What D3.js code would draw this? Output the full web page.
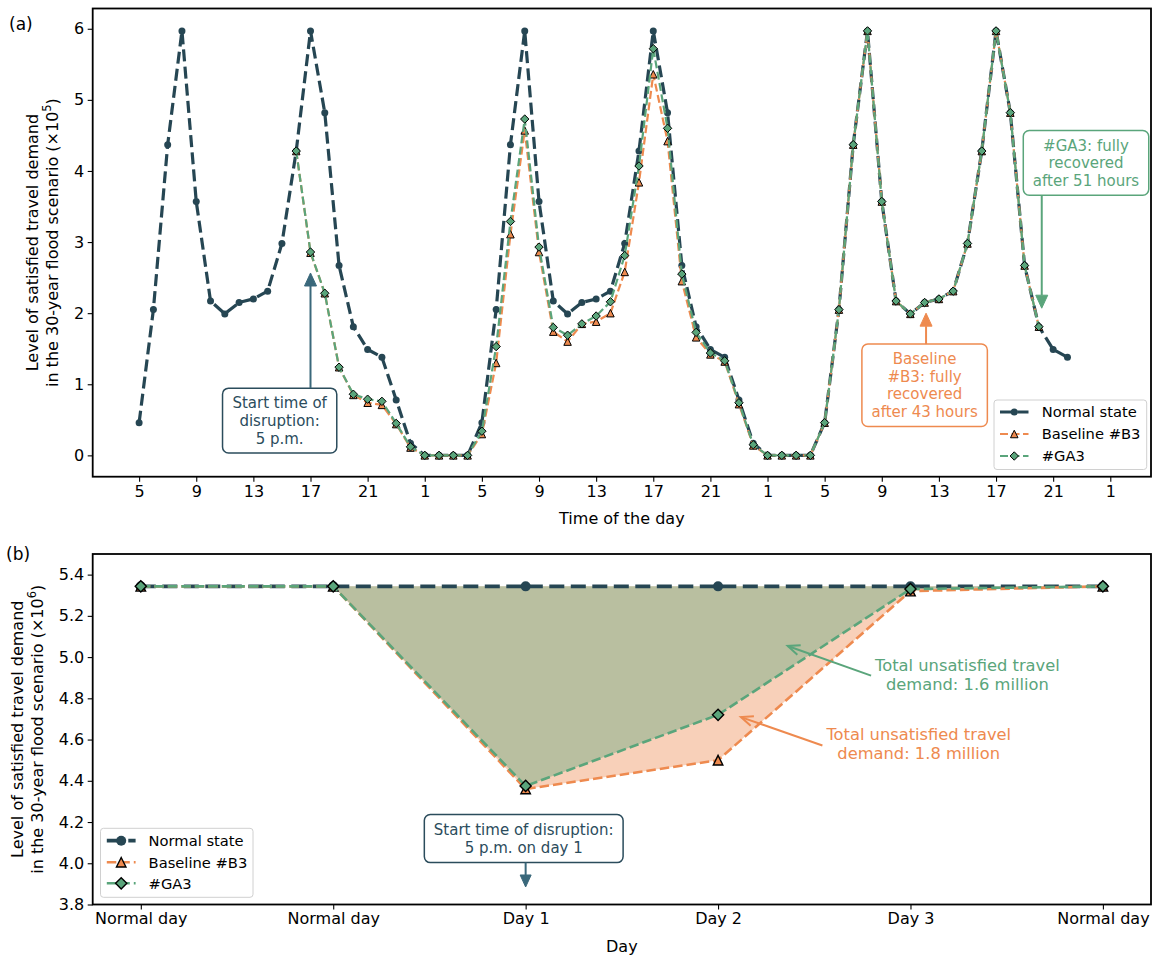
<!DOCTYPE html>
<html><head><meta charset="utf-8">
<script src="https://cdn.jsdelivr.net/npm/d3@7"></script>
<style>
body{margin:0;background:#fff}
svg{display:block}
text{font-family:"DejaVu Sans",sans-serif}
</style>
</head><body>
<svg id="c" width="1155" height="960"></svg>
<script>
// ---------------- DATA ----------------
const hourTickLabels = ["5","9","13","17","21","1","5","9","13","17","21","1","5","9","13","17","21","1"];
const yTicksA = [0,1,2,3,4,5,6];
// Normal state, hourly from 5 a.m. (day before disruption) to 22:00 on day 3
const normalHourly = [
  0.46,2.05,4.37,5.97,3.57,2.17,1.99,2.15,2.20,2.31,2.98,4.28,5.97,4.82,2.67,1.81,1.49,1.38,0.78,0.17,0,0,0,0,
  0.46,2.05,4.37,5.97,3.57,2.17,1.99,2.15,2.20,2.31,2.98,4.28,5.97,4.82,2.67,1.81,1.49,1.38,0.78,0.17,0,0,0,0,
  0.46,2.05,4.37,5.97,3.57,2.17,1.99,2.15,2.20,2.31,2.98,4.28,5.97,4.82,2.67,1.81,1.49,1.38
];
const scenarioStartHourIndex = 11; // 16:00, last point before disruption
const b3Hourly = [
  4.28,2.85,2.28,1.24,0.85,0.74,0.71,0.44,0.11,0,0,0,0,
  0.30,1.30,3.11,4.57,2.86,1.74,1.60,1.85,1.88,2.00,2.58,3.84,5.36,4.42,2.45,1.66,1.42,1.32,0.72,0.14,0,0,0,0,
  0.46,2.05,4.37,5.97,3.57,2.17,1.99,2.15,2.20,2.31,2.98,4.28,5.97,4.82,2.67,1.81
];
const ga3Hourly = [
  4.28,2.86,2.28,1.24,0.86,0.79,0.76,0.45,0.12,0,0,0,0,
  0.34,1.53,3.29,4.73,2.93,1.80,1.69,1.85,1.96,2.16,2.81,4.07,5.72,4.60,2.55,1.73,1.44,1.33,0.74,0.15,0,0,0,0,
  0.46,2.05,4.37,5.97,3.57,2.17,1.99,2.15,2.20,2.31,2.98,4.28,5.97,4.82,2.67,1.81
];

const dayLabels = ["Normal day","Normal day","Day 1","Day 2","Day 3","Normal day"];
const yTicksB = [3.8,4.0,4.2,4.4,4.6,4.8,5.0,5.2,5.4];
const normalDaily = [5.343,5.343,5.343,5.343,5.343,5.343];
const b3Daily     = [5.343,5.343,4.36,4.50,5.32,5.343];
const ga3Daily    = [5.343,5.343,4.375,4.72,5.33,5.343];

const seriesNames = ["Normal state","Baseline #B3","#GA3"];

// ---------------- STYLE ----------------
const C_NORMAL = "#264653", C_B3 = "#ee8a4f", C_GA3 = "#5aa57b";
const C_NOTE = "#2b4c5c", C_NOTE_ARROW = "#3a687b";
const svg = d3.select("#c");

function trianglePath(cx, cy, s){ // matplotlib '^'
  return `M${cx},${cy-s/2}L${cx-s/2},${cy+s/2}L${cx+s/2},${cy+s/2}Z`;
}
function diamondPath(cx, cy, r){
  return `M${cx},${cy-r}L${cx+r},${cy}L${cx},${cy+r}L${cx-r},${cy}Z`;
}
function drawMarker(g, type, cx, cy, color, sz){
  if(type==="circle") g.append("circle").attr("cx",cx).attr("cy",cy).attr("r",sz.circle).attr("fill",color);
  else if(type==="triangle") g.append("path").attr("d",trianglePath(cx,cy,sz.tri)).attr("fill",color).attr("stroke","#000").attr("stroke-width",sz.edge);
  else g.append("path").attr("d",diamondPath(cx,cy,sz.dia)).attr("fill",color).attr("stroke","#000").attr("stroke-width",sz.edge);
}

function styleAxis(g, fs){
  g.select(".domain").remove();
  g.selectAll(".tick line").attr("stroke","#000").attr("stroke-width",1.1);
  g.selectAll(".tick text").attr("fill","#000").attr("font-size",fs).attr("font-family","DejaVu Sans");
}

function arrowHeadFilled(g, x1,y1,x2,y2,color,len,half){
  const a = Math.atan2(y2-y1,x2-x1);
  const bx = x2 - len*Math.cos(a), by = y2 - len*Math.sin(a);
  const px = -Math.sin(a)*half, py = Math.cos(a)*half;
  g.append("line").attr("x1",x1).attr("y1",y1).attr("x2",bx).attr("y2",by).attr("stroke",color).attr("stroke-width",2);
  g.append("path").attr("d",`M${x2},${y2}L${bx+px},${by+py}L${bx-px},${by-py}Z`).attr("fill",color).attr("stroke",color).attr("stroke-width",1);
}
function arrowOpen(g, x1,y1,x2,y2,color,len,half){
  const a = Math.atan2(y2-y1,x2-x1);
  const bx = x2 - len*Math.cos(a), by = y2 - len*Math.sin(a);
  const px = -Math.sin(a)*half, py = Math.cos(a)*half;
  g.append("line").attr("x1",x1).attr("y1",y1).attr("x2",x2).attr("y2",y2).attr("stroke",color).attr("stroke-width",2);
  g.append("path").attr("d",`M${bx+px},${by+py}L${x2},${y2}L${bx-px},${by-py}`).attr("fill","none").attr("stroke",color).attr("stroke-width",2);
}

// boxed multi-line text centred at (cx,cy); returns box
function boxedText(g, lines, cx, cy, color, fs, lh, padX, padY){
  const n = lines.length;
  const t = g.append("text").attr("text-anchor","middle").attr("font-size",fs).attr("fill",color);
  lines.forEach((s,k)=>{
    t.append("tspan").attr("x",cx).attr("y", cy + (k-(n-1)/2)*lh + 0.36*fs).text(s);
  });
  const w = t.node().getBBox().width;
  const bw = w + 2*padX, bh = n*lh + 2*padY;
  const box = {x0:cx-bw/2, y0:cy-bh/2, x1:cx+bw/2, y1:cy+bh/2};
  g.insert("rect", "text").attr("x",box.x0).attr("y",box.y0).attr("width",bw).attr("height",bh)
    .attr("rx",6).attr("fill","#fff").attr("stroke",color).attr("stroke-width",1.5);
  return box;
}
function plainText(g, lines, cx, cy, color, fs, lh){
  const n = lines.length;
  const t = g.append("text").attr("text-anchor","middle").attr("font-size",fs).attr("fill",color);
  lines.forEach((s,k)=>{
    t.append("tspan").attr("x",cx).attr("y", cy + (k-(n-1)/2)*lh + 0.36*fs).text(s);
  });
  const bb = t.node().getBBox();
  return {x0:bb.x, x1:bb.x+bb.width, y0:bb.y, y1:bb.y+bb.height, cy};
}

// ================= PANEL (a) =================
const xA = d3.scaleLinear().domain([-3.25, 70.85]).range([92.7, 1151]);
const yA = d3.scaleLinear().domain([-0.3, 6.285]).range([476.7, 8.5]);
const gA = svg.append("g");

const axA = gA.append("g").attr("transform",`translate(0,${yA.range()[0]})`)
  .call(d3.axisBottom(xA).tickValues(hourTickLabels.map((_,k)=>k*4)).tickFormat((d,k)=>hourTickLabels[k]).tickSize(5).tickPadding(3.5));
styleAxis(axA,16);
const ayA = gA.append("g").attr("transform",`translate(${xA.range()[0]},0)`)
  .call(d3.axisLeft(yA).tickValues(yTicksA).tickFormat(d3.format("d")).tickSize(5).tickPadding(3.5));
styleAxis(ayA,16);

const lineA = d3.line().x(d=>xA(d.i)).y(d=>yA(d.v));
const normA = normalHourly.map((v,i)=>({i,v}));
const b3A = b3Hourly.map((v,k)=>({i:k+scenarioStartHourIndex,v}));
const ga3A = ga3Hourly.map((v,k)=>({i:k+scenarioStartHourIndex,v}));
const szA = {circle:3.5, tri:7.5, dia:4.2, edge:1};

function drawSeriesA(data, color, w, dash, marker){
  const g = gA.append("g");
  g.append("path").attr("d",lineA(data)).attr("fill","none").attr("stroke",color)
   .attr("stroke-width",w).attr("stroke-dasharray",dash);
  data.forEach(d=>drawMarker(g, marker, xA(d.i), yA(d.v), color, szA));
}
drawSeriesA(normA, C_NORMAL, 3.2, "12,5.2", "circle");
drawSeriesA(b3A, C_B3, 2.2, "8,3.5", "triangle");
drawSeriesA(ga3A, C_GA3, 2.2, "8,3.5", "diamond");

// frame
gA.append("rect").attr("x",92.7).attr("y",8.5).attr("width",1151-92.7).attr("height",476.7-8.5)
  .attr("fill","none").attr("stroke","#000").attr("stroke-width",1.8);

// annotations (a)
const noteA = gA.append("g");
{
  const b = boxedText(noteA, ["Start time of","disruption:","5 p.m."], xA(9.84), yA(0.49), C_NOTE, 15, 17.6, 9.5, 6);
  arrowHeadFilled(noteA, xA(12), b.y0, xA(12), yA(2.565), C_NOTE_ARROW, 13, 6);
}
{
  const b = boxedText(noteA, ["Baseline","#B3: fully","recovered","after 43 hours"], xA(55.0), yA(0.986), C_B3, 15, 17.6, 9.5, 6);
  arrowHeadFilled(noteA, xA(55.1), b.y0, xA(55.1), yA(2.0), C_B3, 13, 6);
}
{
  const b = boxedText(noteA, ["#GA3: fully","recovered","after 51 hours"], xA(66.3), yA(4.114), C_GA3, 15, 17.6, 9.5, 6);
  arrowHeadFilled(noteA, xA(63.2), b.y1, xA(63.2), yA(2.07), C_GA3, 13, 6);
}

// legend
function legend(g, x0, y0, w, h, rowYs, hx0, hx1, tx, styles, sz){
  g.append("rect").attr("x",x0).attr("y",y0).attr("width",w).attr("height",h).attr("rx",3)
    .attr("fill","#fff").attr("fill-opacity",0.85).attr("stroke","#d0d0d0").attr("stroke-width",1);
  styles.forEach((s,k)=>{
    const y = rowYs[k];
    g.append("line").attr("x1",hx0).attr("x2",hx1).attr("y1",y).attr("y2",y).attr("stroke",s.color)
      .attr("stroke-width",s.w).attr("stroke-dasharray",s.dash);
    drawMarker(g, s.marker, (hx0+hx1)/2, y, s.color, sz);
    g.append("text").attr("x",tx).attr("y",y+0.36*14.7).attr("font-size",14.7).attr("fill","#000").text(seriesNames[k]);
  });
}
legend(gA.append("g"), 994, 400, 152.7, 69.5, [412,434,456], 1000, 1028.5, 1041.7,
  [{color:C_NORMAL,w:3.2,dash:"12,5.2",marker:"circle"},
   {color:C_B3,w:2.2,dash:"8,3.5",marker:"triangle"},
   {color:C_GA3,w:2.2,dash:"8,3.5",marker:"diamond"}], szA);

// labels (a)
svg.append("text").attr("x",9).attr("y",30).attr("font-size",17).text("(a)");
svg.append("text").attr("x",(92.7+1151)/2).attr("y",524).attr("text-anchor","middle").attr("font-size",16).text("Time of the day");
function yLabel(cy, bx, sup){
  const t = svg.append("text").attr("transform",`translate(0,${cy}) rotate(-90)`).attr("text-anchor","middle").attr("font-size",16);
  t.append("tspan").attr("x",0).attr("y",bx).text("Level of satisfied travel demand");
  const t2 = svg.append("text").attr("transform",`translate(0,${cy}) rotate(-90)`).attr("text-anchor","middle").attr("font-size",16);
  t2.append("tspan").attr("x",0).attr("y",bx+19.5).text("in the 30-year flood scenario (×10");
  t2.append("tspan").attr("font-size",11.5).attr("dy",-6.5).text(sup);
  t2.append("tspan").attr("dy",6.5).text(")");
}
yLabel((8.5+476.7)/2, 38, "5");

// ================= PANEL (b) =================
const xB = d3.scaleLinear().domain([-0.25, 5.25]).range([92.7, 1151]);
const yB = d3.scaleLinear().domain([3.8, 5.5]).range([904.5, 554]);
const gB = svg.append("g");

const axB = gB.append("g").attr("transform",`translate(0,${yB.range()[0]})`)
  .call(d3.axisBottom(xB).tickValues(dayLabels.map((_,k)=>k)).tickFormat((d,k)=>dayLabels[k]).tickSize(5).tickPadding(3.5));
styleAxis(axB,16);
const ayB = gB.append("g").attr("transform",`translate(${xB.range()[0]},0)`)
  .call(d3.axisLeft(yB).tickValues(yTicksB).tickFormat(d3.format(".1f")).tickSize(5).tickPadding(3.5));
styleAxis(ayB,16);

const areaB3 = d3.area().x((d,k)=>xB(k)).y0((d,k)=>yB(normalDaily[k])).y1(d=>yB(d));
gB.append("path").attr("d",areaB3(b3Daily)).attr("fill",C_B3).attr("fill-opacity",0.4);
gB.append("path").attr("d",areaB3(ga3Daily)).attr("fill",C_GA3).attr("fill-opacity",0.4);

const lineB = d3.line().x((d,k)=>xB(k)).y(d=>yB(d));
const szB = {circle:5, tri:9.5, dia:5.6, edge:1.4};
function drawSeriesB(data, color, w, dash, marker){
  const g = gB.append("g");
  g.append("path").attr("d",lineB(data)).attr("fill","none").attr("stroke",color)
   .attr("stroke-width",w).attr("stroke-dasharray",dash);
  data.forEach((v,k)=>drawMarker(g, marker, xB(k), yB(v), color, szB));
}
drawSeriesB(normalDaily, C_NORMAL, 3.8, "15,6.5", "circle");
drawSeriesB(b3Daily, C_B3, 2.6, "9.5,4", "triangle");
drawSeriesB(ga3Daily, C_GA3, 2.6, "9.5,4", "diamond");

gB.append("rect").attr("x",92.7).attr("y",554).attr("width",1151-92.7).attr("height",904.5-554)
  .attr("fill","none").attr("stroke","#000").attr("stroke-width",1.8);

const noteB = gB.append("g");
{
  const b = boxedText(noteB, ["Start time of disruption:","5 p.m. on day 1"], xB(1.99), yB(4.12), C_NOTE, 15, 17.6, 9.5, 6.5);
  arrowHeadFilled(noteB, xB(2), b.y1, xB(2), yB(3.885), C_NOTE_ARROW, 12, 5.5);
}
{
  const t = plainText(noteB, ["Total unsatisfied travel","demand: 1.6 million"], xB(4.296), yB(4.915), C_GA3, 16.3, 19.2);
  arrowOpen(noteB, t.x0-3, yB(4.915)+1, xB(3.362), yB(5.054), C_GA3, 12, 5);
}
{
  const t = plainText(noteB, ["Total unsatisfied travel","demand: 1.8 million"], xB(4.043), yB(4.581), C_B3, 16.3, 19.2);
  arrowOpen(noteB, t.x0-3, yB(4.581)+2, xB(3.119), yB(4.709), C_B3, 12, 5);
}

legend(gB.append("g"), 100.5, 828.3, 152.5, 69, [840.7,862.3,883.3], 106.8, 135.6, 148.6,
  [{color:C_NORMAL,w:3.8,dash:"15,6.5",marker:"circle"},
   {color:C_B3,w:2.6,dash:"9.5,4",marker:"triangle"},
   {color:C_GA3,w:2.6,dash:"9.5,4",marker:"diamond"}], szB);

svg.append("text").attr("x",6).attr("y",560).attr("font-size",17).text("(b)");
svg.append("text").attr("x",(92.7+1151)/2).attr("y",951.5).attr("text-anchor","middle").attr("font-size",16).text("Day");
yLabel((554+904.5)/2, 23, "6");
</script>
</body></html>
